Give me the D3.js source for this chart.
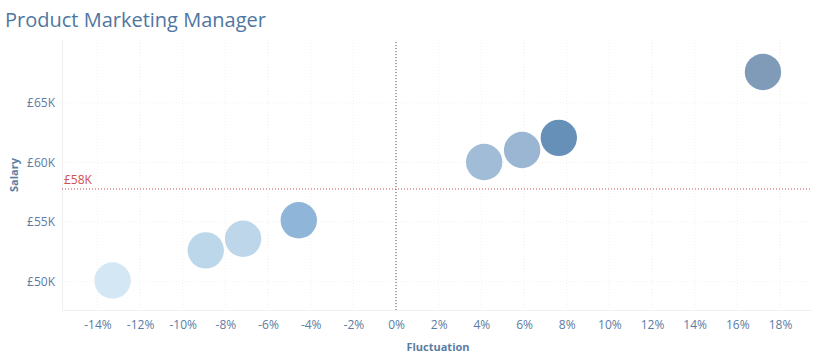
<!DOCTYPE html>
<html>
<head>
<meta charset="utf-8">
<script src="https://cdn.jsdelivr.net/npm/d3@7"></script>
<style>
  html, body { margin: 0; padding: 0; background: #fff; }
  svg { display: block; font-family: "Open Sans", "Noto Sans", sans-serif; }
</style>
</head>
<body>
<svg id="chart" width="814" height="361"></svg>
<script>
// ---- data ----
const title = "Product Marketing Manager";
const fluctuation = [-13.29, -8.92, -7.17, -4.56, 4.13, 5.91, 7.63, 17.2];   // %
const salary = [50.1, 52.63, 53.6, 55.15, 60.03, 61.04, 62.06, 67.58];       // £K
const pointColors = ["#d4e7f4", "#bcd7ea", "#bdd6e9", "#8fb6d9", "#a0bcd7", "#9ab6d2", "#6790b9", "#7f9bb8"];
const xTicks = [-14, -12, -10, -8, -6, -4, -2, 0, 2, 4, 6, 8, 10, 12, 14, 16, 18];
const yTicks = [50, 55, 60, 65];

const svg = d3.select("#chart");
const mLeft = 62, mRight = 812, mTop = 40, mBottom = 310;

const x = d3.scaleLinear().domain([-15.66, 19.5]).range([mLeft, mRight]);
const y = d3.scaleLinear().domain([47.63, 70.26]).range([mBottom, mTop]);

const axisColor = "#5b7ca3";

// title
svg.append("text").attr("x", 5).attr("y", 27)
  .attr("font-size", 20).attr("fill", "#4f76a0").text(title);

// gridlines
const g = svg.append("g");
g.selectAll(".vg").data(xTicks).join("line")
  .attr("x1", d => x(d)).attr("x2", d => x(d))
  .attr("y1", mTop).attr("y2", mBottom)
  .attr("stroke", "#efefef").attr("stroke-dasharray", "1,2");
g.selectAll(".hg").data(yTicks).join("line")
  .attr("x1", mLeft).attr("x2", mRight)
  .attr("y1", d => y(d)).attr("y2", d => y(d))
  .attr("stroke", "#efefef").attr("stroke-dasharray", "1,2");

// plot borders
svg.append("line").attr("x1", mLeft + 0.5).attr("x2", mLeft + 0.5).attr("y1", mTop).attr("y2", mBottom)
  .attr("stroke", "#f0f0f0");
svg.append("line").attr("x1", mLeft).attr("x2", mRight).attr("y1", mBottom + 0.5).attr("y2", mBottom + 0.5)
  .attr("stroke", "#f0f0f0");

// zero line
svg.append("line").attr("x1", x(0)).attr("x2", x(0)).attr("y1", mTop + 2).attr("y2", mBottom)
  .attr("stroke", "#555").attr("stroke-dasharray", "1,2");

// average reference line
const avg = d3.mean(salary);
svg.append("line").attr("x1", mLeft).attr("x2", mRight).attr("y1", y(avg)).attr("y2", y(avg))
  .attr("stroke", "#c0504d").attr("stroke-dasharray", "1,2");
svg.append("text").attr("x", mLeft + 2).attr("y", y(avg) - 5)
  .attr("font-size", 12).attr("fill", "#d0504f")
  .text("£" + Math.round(avg) + "K");

// axes
const xAxis = d3.axisBottom(x).tickValues(xTicks).tickSize(0).tickPadding(10)
  .tickFormat(d => d + "%");
const xg = svg.append("g").attr("transform", `translate(0,${mBottom})`).call(xAxis);
xg.select(".domain").remove();
xg.selectAll("text").attr("font-size", 12).attr("fill", axisColor).attr("font-family", "Open Sans, sans-serif");

const yAxis = d3.axisLeft(y).tickValues(yTicks).tickSize(0).tickPadding(7)
  .tickFormat(d => "£" + d + "K");
const yg = svg.append("g").attr("transform", `translate(${mLeft},0)`).call(yAxis);
yg.select(".domain").remove();
yg.selectAll("text").attr("font-size", 12).attr("fill", axisColor).attr("font-family", "Open Sans, sans-serif");

// axis titles
svg.append("text").attr("x", 438).attr("y", 351).attr("text-anchor", "middle")
  .attr("font-size", 11).attr("font-weight", "bold").attr("fill", "#5b7ca3").text("Fluctuation");
svg.append("text").attr("transform", `translate(18,175) rotate(-90)`).attr("text-anchor", "middle")
  .attr("font-size", 11).attr("font-weight", "bold").attr("fill", "#5b7ca3").text("Salary");

// points
svg.append("g").selectAll("circle").data(fluctuation).join("circle")
  .attr("cx", d => x(d))
  .attr("cy", (d, i) => y(salary[i]))
  .attr("r", 18.2)
  .attr("fill", (d, i) => pointColors[i]);
</script>
</body>
</html>
